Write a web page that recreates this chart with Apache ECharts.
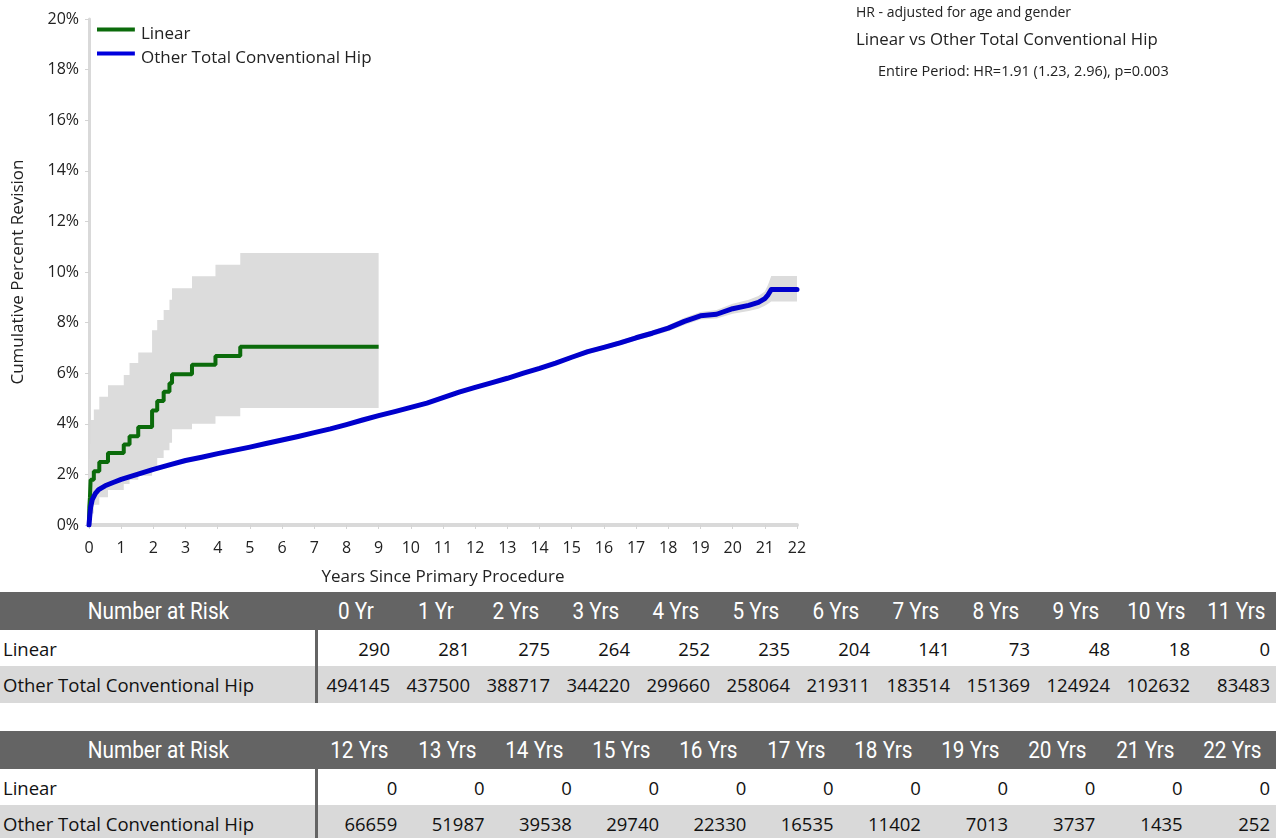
<!DOCTYPE html>
<html>
<head>
<meta charset="utf-8">
<script src="https://cdn.jsdelivr.net/npm/echarts@6/dist/echarts.min.js"></script>
<style>
  html, body { margin:0; padding:0; background:#fff; width:1288px; height:838px; overflow:hidden; }
  #chart { position:absolute; left:0; top:0; width:1288px; height:592px; }
  .risk { position:absolute; left:0; width:1276px; border-collapse:collapse; table-layout:fixed; font-family:"Open Sans", sans-serif; }
  .risk td { padding:0; white-space:nowrap; overflow:visible; }
  .risk tr.hd td { background:#646464; color:#fff; height:38px; font-family:"Roboto",sans-serif; font-size:23px; text-align:center; }
  .risk tr.hd td span { display:inline-block; transform:scaleX(0.9); transform-origin:50% 50%; }
  .risk tr.r1 td { background:#fff; color:#111; height:36px; font-size:18.5px; text-align:right; padding-right:6px; }
  .risk tr.r2 td { background:#d9d9d9; color:#111; height:37px; font-size:18.5px; text-align:right; padding-right:6px; }
  .risk tr.r1 td.lab, .risk tr.r2 td.lab { text-align:left; padding-left:3px; padding-right:0; border-right:3px solid #646464; }
</style>
</head>
<body>
<div id="chart"></div>
<table class="risk" id="t1" style="top:592px"></table>
<table class="risk" id="t2" style="top:731px"></table>
<script>
// ---------------- data ----------------
const xTicks = [0,1,2,3,4,5,6,7,8,9,10,11,12,13,14,15,16,17,18,19,20,21,22];

// Linear (Kaplan-Meier step curve) and its 95% CI
const linearT     = [0, 0.01, 0.03, 0.05, 0.15, 0.32, 0.59, 1.08, 1.26, 1.53, 1.96, 2.12, 2.32, 2.50, 2.58, 3.20, 3.93, 4.70, 9.00];
const linearPct   = [0, 0.70, 1.10, 1.79, 2.12, 2.49, 2.85, 3.18, 3.51, 3.87, 4.53, 4.90, 5.27, 5.60, 5.96, 6.33, 6.68, 7.05, 7.05];
const linearUpper = [0, 2.60, 3.20, 4.15, 4.57, 5.07, 5.52, 5.93, 6.40, 6.82, 7.70, 8.10, 8.50, 8.90, 9.36, 9.83, 10.29, 10.75, 10.75];
const linearLower = [0, 0.05, 0.20, 0.45, 0.80, 1.10, 1.38, 1.62, 1.79, 1.95, 2.30, 2.65, 2.95, 3.25, 3.78, 4.00, 4.30, 4.62, 4.62];

// Other Total Conventional Hip and its 95% CI
const blueT     = [0,0.02,0.05,0.1,0.2,0.3,0.5,0.75,1,1.5,2,2.5,3,3.5,4,4.5,5,5.5,6,6.5,7,7.5,8,8.5,9,9.5,10,10.5,11,11.5,12,12.5,13,13.5,14,14.5,15,15.5,16,16.5,17,17.5,18,18.5,19,19.5,20,20.5,20.8,21,21.1,21.2,22];
const bluePct   = [0,0.30,0.70,1.00,1.25,1.40,1.55,1.68,1.80,2.00,2.20,2.38,2.55,2.68,2.82,2.95,3.08,3.22,3.36,3.50,3.65,3.80,3.97,4.15,4.32,4.48,4.65,4.82,5.03,5.25,5.44,5.62,5.80,6.00,6.19,6.40,6.63,6.85,7.02,7.20,7.40,7.58,7.78,8.05,8.27,8.33,8.55,8.68,8.80,8.95,9.10,9.31,9.31];
const blueUpper = [0,0.33,0.74,1.04,1.29,1.44,1.59,1.72,1.84,2.04,2.24,2.42,2.59,2.72,2.86,2.99,3.12,3.26,3.40,3.54,3.69,3.84,4.02,4.20,4.37,4.53,4.71,4.88,5.09,5.31,5.50,5.68,5.87,6.07,6.26,6.48,6.71,6.94,7.11,7.30,7.50,7.69,7.90,8.19,8.42,8.50,8.75,8.90,9.05,9.23,9.50,9.84,9.84];
const blueLower = [0,0.27,0.66,0.96,1.21,1.36,1.51,1.64,1.76,1.96,2.16,2.34,2.51,2.64,2.78,2.91,3.04,3.18,3.32,3.46,3.61,3.76,3.92,4.10,4.27,4.43,4.59,4.76,4.97,5.19,5.38,5.56,5.73,5.93,6.12,6.32,6.55,6.76,6.93,7.10,7.30,7.47,7.66,7.91,8.12,8.16,8.35,8.46,8.55,8.67,8.75,8.83,8.83];

// Number at risk table
const riskLabels = ['0 Yr','1 Yr','2 Yrs','3 Yrs','4 Yrs','5 Yrs','6 Yrs','7 Yrs','8 Yrs','9 Yrs','10 Yrs','11 Yrs','12 Yrs','13 Yrs','14 Yrs','15 Yrs','16 Yrs','17 Yrs','18 Yrs','19 Yrs','20 Yrs','21 Yrs','22 Yrs'];
const linearRisk = [290,281,275,264,252,235,204,141,73,48,18,0,0,0,0,0,0,0,0,0,0,0,0];
const otherRisk  = [494145,437500,388717,344220,299660,258064,219311,183514,151369,124924,102632,83483,66659,51987,39538,29740,22330,16535,11402,7013,3737,1435,252];

const seriesNames = ['Linear','Other Total Conventional Hip'];
const annoLines = ['HR - adjusted for age and gender','Linear vs Other Total Conventional Hip','Entire Period: HR=1.91 (1.23, 2.96), p=0.003'];

// ---------------- chart ----------------
const GREEN = '#0b6b0b', BLUE = '#0000cc', BAND = '#dcdcdc';
const FONT = '"Open Sans", sans-serif';
// legend icon: a bar sitting at the top of the icon box
const LEG_ICON = 'path://M0,0H38V4H0Z M0,14H0.05V14.05H0Z';

function bandRenderer(xs, lo, hi, stepped) {
  return function (params, api) {
    const n = xs.length, pts = [];
    for (let i = 0; i < n; i++) {
      pts.push(api.coord([xs[i], hi[i]]));
      if (stepped && i < n - 1) pts.push(api.coord([xs[i + 1], hi[i]]));
    }
    for (let i = n - 1; i >= 0; i--) {
      if (stepped && i < n - 1) pts.push(api.coord([xs[i + 1], lo[i]]));
      pts.push(api.coord([xs[i], lo[i]]));
    }
    return { type: 'polygon', shape: { points: pts }, style: { fill: BAND } };
  };
}

const chart = echarts.init(document.getElementById('chart'), null, { renderer: 'canvas' });
chart.setOption({
  animation: false,
  textStyle: { fontFamily: FONT },
  grid: { left: 89, top: 19, width: 708, height: 506, containLabel: false },
  legend: {
    left: 97, top: 25, padding: 0, orient: 'vertical', itemWidth: 38, itemHeight: 14, itemGap: 5,
    icon: LEG_ICON,
    textStyle: { fontFamily: FONT, fontSize: 17, color: '#222', lineHeight: 19, padding: [0, 0, 0, 1] },
    data: [
      { name: seriesNames[0], itemStyle: { color: GREEN } },
      { name: seriesNames[1], itemStyle: { color: '#0000dd' } }
    ]
  },
  xAxis: {
    type: 'value', min: 0, max: 22, interval: 1,
    name: 'Years Since Primary Procedure', nameLocation: 'middle', nameGap: 44,
    nameTextStyle: { fontFamily: FONT, fontSize: 17, color: '#222' },
    axisLine: { show: true, onZero: false, lineStyle: { color: '#d9d9d9', width: 4 } },
    axisTick: { show: true, length: 4, lineStyle: { color: '#d4d4d4', width: 1 } },
    axisLabel: { fontFamily: FONT, fontSize: 16, color: '#222', margin: 15,
      formatter: v => (xTicks.indexOf(v) >= 0 ? String(v) : '') },
    splitLine: { show: false }
  },
  yAxis: {
    type: 'value', min: 0, max: 20, interval: 2,
    name: 'Cumulative Percent Revision', nameLocation: 'middle', nameGap: 62,
    nameTextStyle: { fontFamily: FONT, fontSize: 17, color: '#222' },
    axisLine: { show: true, lineStyle: { color: '#d9d9d9', width: 3 } },
    axisTick: { show: true, length: 4, lineStyle: { color: '#d4d4d4', width: 1 } },
    axisLabel: { fontFamily: FONT, fontSize: 16, color: '#222', margin: 10, formatter: '{value}%' },
    splitLine: { show: false }
  },
  graphic: [
    { type: 'text', left: 856, top: 6, style: { text: annoLines[0], font: '14px ' + FONT, fill: '#222' } },
    { type: 'text', left: 856, top: 32, style: { text: annoLines[1], font: '16.8px ' + FONT, fill: '#222' } },
    { type: 'text', left: 878, top: 64, style: { text: annoLines[2], font: '14.5px ' + FONT, fill: '#222' } }
  ],
  series: [
    { type: 'custom', name: 'linearCI', silent: true, z: 1, data: [[0, 0]], encode: { x: 0, y: 1 },
      renderItem: bandRenderer(linearT, linearLower, linearUpper, true) },
    { type: 'custom', name: 'otherCI', silent: true, z: 1, data: [[0, 0]], encode: { x: 0, y: 1 },
      renderItem: bandRenderer(blueT, blueLower, blueUpper, false) },
    { type: 'line', name: seriesNames[0], step: 'end', showSymbol: false, symbol: 'none', z: 3,
      lineStyle: { color: GREEN, width: 4 }, itemStyle: { color: GREEN },
      data: linearT.map((t, i) => [t, linearPct[i]]) },
    { type: 'line', name: seriesNames[1], showSymbol: false, symbol: 'none', z: 4,
      lineStyle: { color: BLUE, width: 5, cap: 'round', join: 'round' }, itemStyle: { color: BLUE },
      data: blueT.map((t, i) => [t, bluePct[i]]) }
  ]
});

// ---------------- number at risk tables ----------------
function buildTable(id, from, to) {
  const n = to - from + 1;
  const dataW = (1276 - 316) / n;
  let html = '<colgroup><col style="width:316px">';
  for (let i = 0; i < n; i++) html += '<col style="width:' + dataW + 'px">';
  html += '</colgroup>';
  html += '<tr class="hd"><td><span>Number at Risk</span></td>';
  for (let i = from; i <= to; i++) html += '<td><span>' + riskLabels[i] + '</span></td>';
  html += '</tr><tr class="r1"><td class="lab">' + seriesNames[0] + '</td>';
  for (let i = from; i <= to; i++) html += '<td>' + linearRisk[i] + '</td>';
  html += '</tr><tr class="r2"><td class="lab">' + seriesNames[1] + '</td>';
  for (let i = from; i <= to; i++) html += '<td>' + otherRisk[i] + '</td>';
  html += '</tr>';
  document.getElementById(id).innerHTML = html;
}
buildTable('t1', 0, 11);
buildTable('t2', 12, 22);
</script>
</body>
</html>
